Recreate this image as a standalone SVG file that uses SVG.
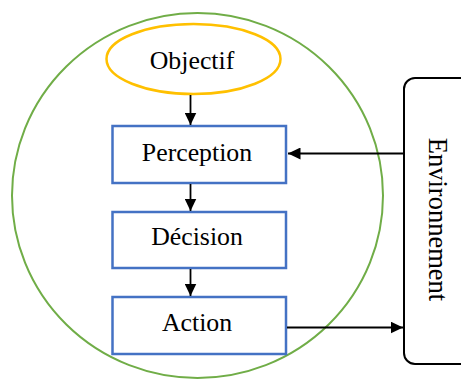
<svg xmlns="http://www.w3.org/2000/svg" width="461" height="380" viewBox="0 0 461 380">
<style>
.t{font-family:"Liberation Serif","Times New Roman",serif;font-size:25.8px;fill:#000;text-anchor:middle}
.box{fill:#fff;stroke:#4472C4;stroke-width:2.5}
.c{stroke:#000;stroke-width:1.8;fill:none}
</style>
<defs>
<marker id="ah" markerUnits="userSpaceOnUse" markerWidth="13" markerHeight="12" refX="12.5" refY="6" orient="auto">
<path d="M0,0 L12.5,6 L0,12 z" fill="#000"/>
</marker>
</defs>
<rect width="461" height="380" fill="#fff"/>
<g id="agent">
<ellipse cx="197.5" cy="195.5" rx="185.5" ry="182.5" fill="none" stroke="#70AD47" stroke-width="2"/>
</g>
<g id="environnement">
<rect x="404" y="78" width="80" height="286" rx="11" fill="#fff" stroke="#000" stroke-width="2"/>
<text class="t" transform="translate(429,219.5) rotate(90)" x="0" y="0" style="font-size:26.5px">Environnement</text>
</g>
<g id="objectif">
<ellipse cx="193.5" cy="59" rx="87" ry="35" fill="#fff" stroke="#FFC000" stroke-width="2.5"/>
<text class="t" x="192" y="69">Objectif</text>
</g>
<g id="perception">
<rect class="box" x="112.5" y="126" width="173.5" height="57"/>
<text class="t" x="197" y="161">Perception</text>
</g>
<g id="decision">
<rect class="box" x="112.5" y="212" width="173.5" height="56"/>
<text class="t" x="197" y="245">Décision</text>
</g>
<g id="action">
<rect class="box" x="112.5" y="297" width="173.5" height="57"/>
<text class="t" x="197" y="331">Action</text>
</g>
<g id="connectors">
<line class="c" x1="190.5" y1="95" x2="190.5" y2="125" marker-end="url(#ah)"/>
<line class="c" x1="190.5" y1="184" x2="190.5" y2="211" marker-end="url(#ah)"/>
<line class="c" x1="190.5" y1="269" x2="190.5" y2="296" marker-end="url(#ah)"/>
<line class="c" x1="403" y1="153.5" x2="288" y2="153.5" marker-end="url(#ah)"/>
<line class="c" x1="287" y1="327.5" x2="403" y2="327.5" marker-end="url(#ah)"/>
</g>
</svg>
